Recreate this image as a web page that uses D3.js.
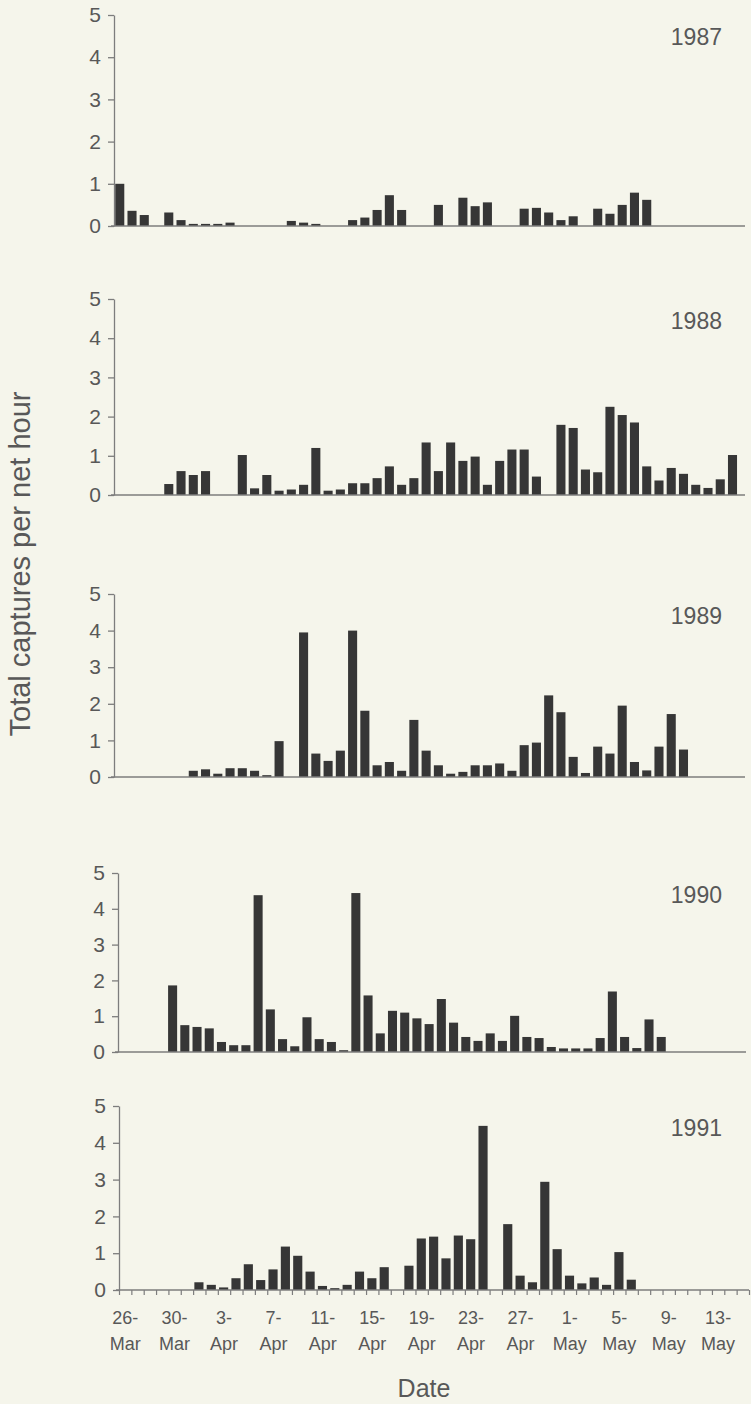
<!DOCTYPE html>
<html><head><meta charset="utf-8">
<script src="https://cdn.jsdelivr.net/npm/d3@7"></script>
<style>
html,body{margin:0;padding:0;background:#f5f5eb;}
svg{display:block;font-family:"Liberation Sans",Arial,sans-serif;}
</style></head><body>
<svg id="c" width="751" height="1404"></svg>
<script>
// Days from 26-Mar (index 0) to 15-May (index 50)
const days = d3.range(51);
const tickDays = [0,4,8,12,16,20,24,28,32,36,40,44,48];
const tickDayLabels = ["26-","30-","3-","7-","11-","15-","19-","23-","27-","1-","5-","9-","13-"];
const tickMonthLabels = ["Mar","Mar","Apr","Apr","Apr","Apr","Apr","Apr","Apr","May","May","May","May"];
const yTicks = [0,1,2,3,4,5];
const years = ["1987","1988","1989","1990","1991"];
const _ = null;

const v1987 = [1.0,0.36,0.26,_,0.32,0.14,0.05,0.05,0.05,0.08,
  _,_,_,_,0.12,0.08,0.05,_,_,0.14,
  0.2,0.38,0.73,0.38,_,_,0.5,_,0.67,0.47,
  0.56,_,_,0.41,0.43,0.32,0.14,0.23,_,0.41,
  0.29,0.5,0.79,0.62,_,_,_,_,_,_,_];
const v1988 = [_,_,_,_,0.28,0.61,0.51,0.61,_,_,
  1.02,0.17,0.51,0.11,0.14,0.26,1.2,0.11,0.14,0.3,
  0.3,0.43,0.73,0.26,0.43,1.34,0.61,1.34,0.87,0.98,
  0.26,0.87,1.16,1.16,0.47,_,1.79,1.71,0.65,0.58,
  2.25,2.04,1.85,0.73,0.37,0.69,0.54,0.26,0.18,0.4,1.02];
const v1989 = [_,_,_,_,_,_,0.17,0.21,0.09,0.24,
  0.24,0.17,0.05,0.98,_,3.95,0.64,0.44,0.72,4.0,
  1.81,0.32,0.41,0.17,1.56,0.72,0.32,0.09,0.14,0.32,
  0.32,0.37,0.17,0.87,0.94,2.23,1.77,0.55,0.11,0.83,
  0.64,1.95,0.41,0.18,0.83,1.72,0.75,_,_,_,_];
const v1990 = [_,_,_,_,1.86,0.75,0.70,0.66,0.28,0.19,
  0.19,4.38,1.19,0.36,0.16,0.97,0.36,0.28,0.05,4.44,
  1.58,0.52,1.15,1.10,0.94,0.78,1.48,0.82,0.42,0.31,
  0.52,0.31,1.01,0.42,0.39,0.14,0.10,0.10,0.10,0.39,
  1.69,0.42,0.11,0.91,0.42,_,_,_,_,_,_];
const v1991 = [_,_,_,_,_,_,0.21,0.14,0.07,0.32,
  0.70,0.27,0.56,1.18,0.93,0.50,0.11,0.05,0.14,0.50,
  0.32,0.62,_,0.66,1.40,1.45,0.86,1.48,1.38,4.46,
  _,1.79,0.39,0.21,2.94,1.11,0.39,0.18,0.34,0.14,
  1.03,0.28,_,_,_,_,_,_,_,_,_];
const series = [v1987,v1988,v1989,v1990,v1991];

// layout (pixel geometry of each panel)
const panels = [
  {top:15,  base:226,  left:114, right:739, end:745},
  {top:299, base:495,  left:114, right:739, end:745},
  {top:594, base:777,  left:114, right:739, end:745},
  {top:873, base:1052, left:118, right:741, end:746},
  {top:1106,base:1290, left:119, right:749, end:749}
];
const barColor = "#363636", axisColor = "#7d7d7d", textColor = "#585858";

const svg = d3.select("#c");
svg.append("rect").attr("width",751).attr("height",1404).attr("fill","#f5f5eb");

panels.forEach((p,i) => {
  const vals = series[i];
  const x = d3.scaleBand().domain(days).range([p.left, p.right]).padding(0);
  const y = d3.scaleLinear().domain([0,5]).range([p.base, p.top]);
  const g = svg.append("g");

  // bars
  g.selectAll("rect.bar").data(days.filter(d => vals[d] != null)).join("rect")
    .attr("class","bar")
    .attr("x", d => x(d) + x.step()*0.1)
    .attr("width", x.step()*0.74)
    .attr("y", d => y(vals[d]))
    .attr("height", d => y(0) - y(vals[d]))
    .attr("fill", barColor);

  // y axis
  const ya = g.append("g").attr("transform",`translate(${p.left},0)`)
    .call(d3.axisLeft(y).tickValues(yTicks).tickSize(6).tickSizeOuter(0).tickPadding(7).tickFormat(d3.format("d")));
  ya.select(".domain").attr("stroke",axisColor).attr("stroke-width",1.3);
  ya.selectAll(".tick line").attr("stroke",axisColor).attr("stroke-width",1.3);
  ya.selectAll(".tick text").attr("fill",textColor).attr("font-size",21)
    .attr("font-family","'Liberation Sans',Arial,sans-serif");

  // baseline / x axis
  if (i === panels.length - 1) {
    const xl = d3.scaleLinear().domain([0, days.length]).range([p.left, p.right]);
    const xa = g.append("g").attr("transform",`translate(0,${p.base})`)
      .call(d3.axisBottom(xl).tickValues(d3.range(days.length+1)).tickSize(5).tickSizeOuter(0).tickFormat(""));
    xa.select(".domain").remove();
    xa.selectAll(".tick line").attr("stroke",axisColor).attr("stroke-width",1.2);
    // labels
    const lab = g.selectAll("text.xl").data(tickDays).join("text")
      .attr("class","xl")
      .attr("text-anchor","middle")
      .attr("fill",textColor).attr("font-size",18);
    lab.append("tspan").attr("x", d => x(d) + x.bandwidth()/2).attr("y", p.base + 34)
      .text((d,k) => tickDayLabels[k]);
    lab.append("tspan").attr("x", d => x(d) + x.bandwidth()/2).attr("y", p.base + 60)
      .text((d,k) => tickMonthLabels[k]);
  }
  g.append("line").attr("x1", p.left - 3).attr("x2", p.end)
    .attr("y1", y(0)).attr("y2", y(0))
    .attr("stroke",axisColor).attr("stroke-width",1.3);

  // year label
  g.append("text").attr("x", 722).attr("y", y(5) + 30)
    .attr("text-anchor","end").attr("fill",textColor).attr("font-size",23)
    .text(years[i]);
});

// axis titles
svg.append("text").attr("x", 424).attr("y", 1397).attr("text-anchor","middle")
  .attr("fill",textColor).attr("font-size",25).text("Date");
svg.append("text").attr("transform","translate(30,564) rotate(-90)")
  .attr("text-anchor","middle").attr("fill",textColor).attr("font-size",29)
  .text("Total captures per net hour");
</script>
</body></html>
